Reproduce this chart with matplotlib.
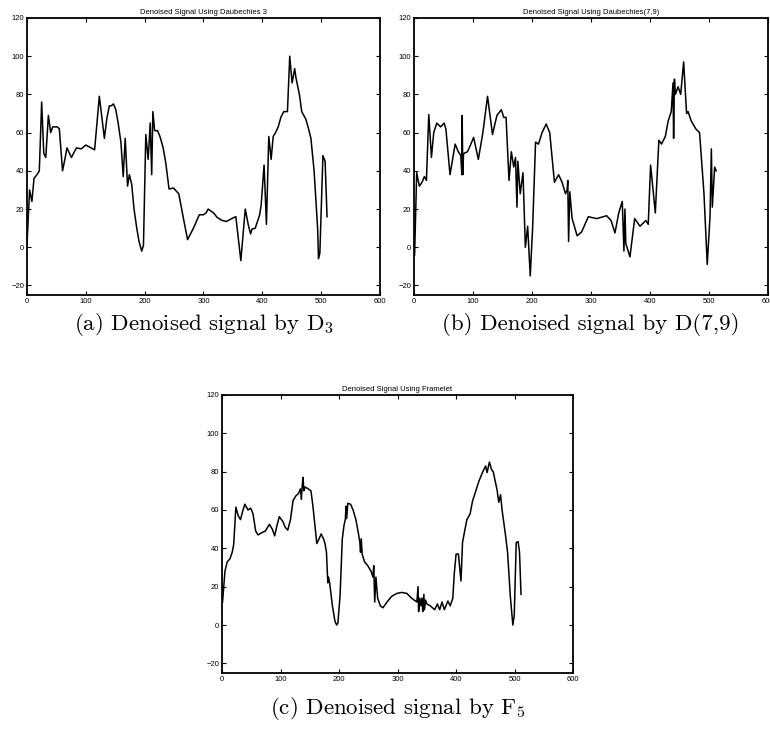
import matplotlib
matplotlib.use("Agg")
from matplotlib import pyplot as plt

# (a) Daubechies 3
d3_x = [0, 4.5, 8.4, 12, 17, 21, 25, 28.6, 32, 36.4, 40.3, 43.7, 51.5, 55, 60.5, 64.4, 68, 75.6,
        84, 92.4, 100, 115, 123, 131.6, 135.6, 140, 143, 147, 151, 155, 159.7, 163.6, 167, 171,
        174, 178, 182, 186.6, 190.5, 195, 198, 202, 206, 209.5, 212, 214, 217, 222, 226, 231.5,
        236, 241.5, 249, 258, 266, 273, 283, 290, 293, 300, 304.5, 308, 317, 323.6, 332, 339,
        348, 355, 363.5, 371, 376, 380, 382.6, 388, 395.5, 398, 403, 407, 411, 415, 418.5,
        422.5, 427, 431.5, 436.5, 442.7, 446.6, 450.6, 455, 457, 463, 467, 474, 478.6, 482.6,
        488, 494, 495.5, 497.8, 503, 506.7, 510]
d3_y = [1, 30, 24, 36, 38, 40, 76, 49, 47, 69, 60, 63, 63, 62, 40, 46, 52, 47,
        52, 51.5, 53.5, 51, 79, 57, 67, 74, 74, 75, 72, 65, 55, 37, 57, 32,
        38, 33, 20, 10, 3, -2, 1, 59, 46, 65, 38, 71, 61, 61, 58, 52,
        44, 30.5, 31, 28, 15, 4, 10, 15, 17, 17, 18, 20, 18, 15.5, 14, 13.5,
        15, 16, -7, 20, 12, 7, 9.5, 10, 17, 22, 43, 12, 58, 46, 58,
        60, 63, 68, 71, 71, 100, 86, 93.5, 89, 80, 71, 67, 62, 57,
        40, 10, -6, -3, 48, 45, 16]

# (b) Daubechies(7,9)
d79_x = [1, 4.5, 9, 13.6, 17.5, 21, 25, 29.5, 33.4, 38.5, 45, 51, 54, 61, 69.7, 75, 79.3, 81,
         81.6, 82.7, 83.9, 90.6, 95, 101, 109, 116.7, 124.6, 133, 140.5, 148, 152, 156, 161,
         165, 169, 172, 174.5, 176, 180, 184.7, 188.7, 192.6, 197, 201, 206, 211, 217, 224,
         230, 238, 245, 251, 256.7, 259.5, 260.6, 262, 264, 268, 276.5, 284, 295.5, 309.6,
         326.5, 334, 340.6, 347, 353, 355.8, 357.5, 359, 366, 374, 383, 393, 397, 401, 409,
         415, 419.4, 426, 430.7, 436, 439, 440, 441.4, 443, 447.6, 452, 457, 462, 464.5, 470,
         477.5, 484, 491.5, 497, 501.7, 504, 505.6, 509.6, 512]
d79_y = [-4, 39, 32, 34, 37, 35, 69.5, 47, 60, 65, 63, 65, 62, 38, 54, 50, 48, 38,
         69, 38, 49, 50, 53, 57.5, 46, 60, 79, 59, 69, 72, 68, 68, 35,
         50, 42, 47, 21, 45, 28, 39, 0, 11, -15, 10, 55, 54, 60, 64.5,
         60, 34, 38, 34, 28, 30, 35, 3, 29, 15, 6, 8, 16, 15,
         16.5, 14, 7.5, 18, 24, -2, 20, 2, -5, 15, 11, 14, 12, 43, 18,
         56, 54, 58, 66, 71, 86, 57, 88, 80, 84, 80, 97, 70, 71, 66,
         62, 60, 28, -9, 16, 51.5, 21, 42, 40]

# (c) Framelet
fr_x = [1, 5, 9, 13.5, 17.5, 20, 23.7, 27.7, 31.6, 35, 39, 44.6, 49, 53, 57.6, 61.6, 67, 74,
        81, 86, 90, 94, 98, 104, 108, 112.4, 117, 121.5, 126.6, 130.5, 134, 135.6, 137, 138.4,
        140, 142, 147.5, 152, 155.4, 158.8, 162, 166, 169.5, 173.4, 176, 178.5, 180.8, 182,
        184, 188.7, 193, 196, 198, 201.7, 205.6, 208.5, 210.7, 212, 213, 215, 219.8, 224,
        228.8, 233, 235.6, 236.7, 238, 239.5, 243.5, 249, 254.8, 258, 259.3, 261, 263, 266,
        270.6, 275, 282, 290, 298.9, 307, 315.8, 324, 333, 335, 336, 338, 340, 342, 343, 345,
        346, 348, 350, 356, 363.5, 368, 372, 376, 380, 386, 390, 394.4, 397, 400, 404, 408.4,
        411, 414, 418.5, 424, 428, 433.7, 439, 445, 450.5, 453, 457, 460.7, 463.5, 470, 473,
        476, 478.6, 484, 488, 492.7, 497, 499.4, 502.8, 506, 508.4, 511]
fr_y = [12, 28, 33, 34.5, 38, 42, 61.5, 57, 55, 59, 63, 60, 61, 58, 49, 47, 48, 49,
        52.5, 50, 46.5, 52, 56.5, 54, 51, 49.5, 55, 65, 67.5, 68.5, 71, 65.5, 72, 77,
        70, 72, 71, 70, 62, 52, 42.5, 45, 47.5, 45, 42.5, 38, 22, 25,
        22, 10, 2, 0, 1, 15, 45, 52, 55, 62, 55.5, 63.5, 63, 60,
        55, 48, 43, 38, 45, 37, 33, 31, 28, 25, 31, 12, 25, 14,
        10, 9, 12, 15, 16.5, 17, 16.5, 14, 12, 20, 7, 14, 10, 14, 7, 16,
        8, 13, 11, 10, 8, 11, 8, 12, 8, 12.5, 10, 14, 27, 37, 37, 23,
        43, 48, 55, 58, 64.5, 70, 75, 79.5, 83, 79.5, 85, 81, 80, 70.5, 64,
        68, 60, 48, 38, 15, 0, 5, 43, 43.5, 38, 16]

titles = ["Denoised Signal Using Daubechies 3",
          "Denoised Signal Using Daubechies(7,9)",
          "Denoised Signal Using Framelet"]
captions = ["(a) Denoised signal by D$_3$",
            "(b) Denoised signal by D(7,9)",
            "(c) Denoised signal by F$_5$"]
x_ticks = [0, 100, 200, 300, 400, 500, 600]
y_ticks = [-20, 0, 20, 40, 60, 80, 100, 120]


def main():
    plt.rcParams["font.family"] = ["Liberation Sans", "DejaVu Sans"]
    plt.rcParams["mathtext.fontset"] = "cm"
    fig = plt.figure(figsize=(7.7, 7.31), dpi=100)
    boxes = [[0.035, 0.5964, 0.4585, 0.379],
             [0.5377, 0.5964, 0.4597, 0.379],
             [0.2883, 0.0794, 0.456, 0.3803]]
    cap_gap = [0.040, 0.040, 0.048]
    series = [(d3_x, d3_y), (d79_x, d79_y), (fr_x, fr_y)]
    for box, (xs, ys), title, cap, gap in zip(boxes, series, titles, captions, cap_gap):
        ax = fig.add_axes(box)
        ax.plot(xs, ys, color="black", linewidth=1.1)
        ax.set_xlim(0, 600)
        ax.set_ylim(-25, 120)
        ax.set_xticks(x_ticks)
        ax.set_yticks(y_ticks)
        ax.tick_params(direction="in", length=3, width=0.8, labelsize=5.5,
                       top=True, right=True, pad=2)
        for sp in ax.spines.values():
            sp.set_linewidth(1.3)
        ax.set_title(title, fontsize=5.5, pad=3)
        fig.text(box[0] + box[2] / 2, box[1] - gap, cap, ha="center", va="center",
                 fontsize=16.5, family="cmr10")
    fig.savefig("out.png", dpi=100)


if __name__ == "__main__":
    main()
